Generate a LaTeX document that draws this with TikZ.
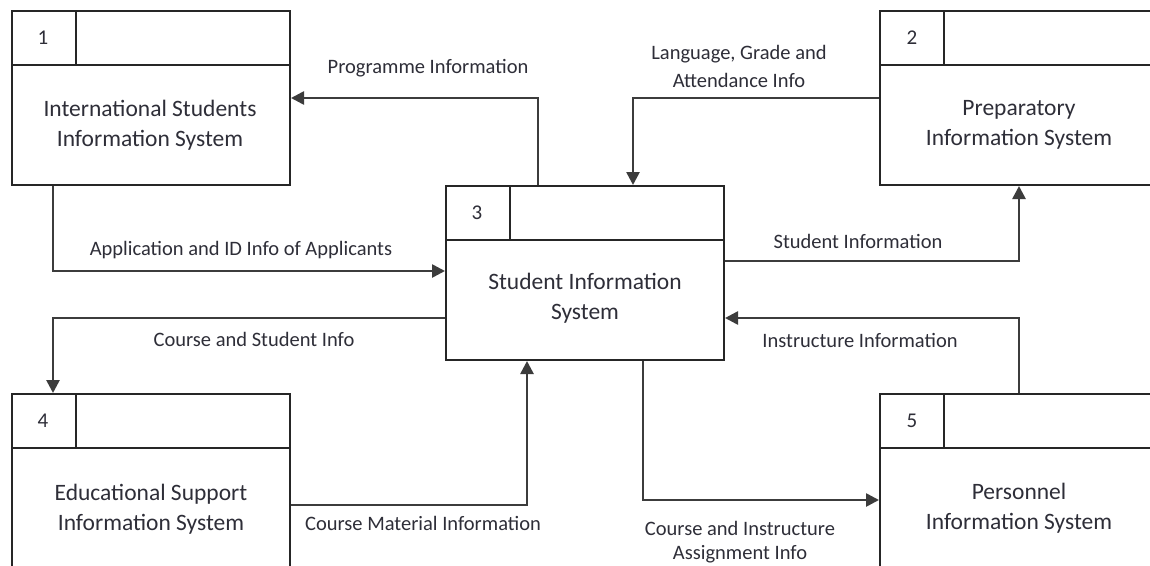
\documentclass[tikz,border=0pt]{standalone}
\usepackage{fontspec}
\setmainfont{Carlito}
\usetikzlibrary{arrows.meta}
\definecolor{ink}{HTML}{262626}
\definecolor{wire}{HTML}{3C3C3C}
\definecolor{txt}{HTML}{2E2E38}
\tikzset{
  sysbox/.style={draw=ink, line width=2pt, minimum width=278pt, minimum height=174pt,
    inner sep=0pt, anchor=north west},
  rule/.style={draw=ink, line width=2pt},
  flow/.style={draw=wire, line width=2.6pt, line join=miter,
    -{Triangle[length=13pt,width=13pt]}},
  numtxt/.style={text=txt, font=\fontsize{21}{24}\selectfont},
  systxt/.style={text=txt, align=center, font=\fontsize{23.5}{30}\selectfont},
  flowtxt/.style={text=txt, align=center, font=\fontsize{20.5}{28}\selectfont}
}
\newcommand{\headerrule}[1]{%
  \draw[rule] ([yshift=-55pt]#1.north west) -- ([yshift=-55pt]#1.north east);
  \draw[rule] ([xshift=65pt]#1.north west) -- ([xshift=65pt,yshift=-55pt]#1.north west);}
\begin{document}
\begin{tikzpicture}[x=1pt,y=-1pt]
  \useasboundingbox (0,0) rectangle (1150,565);
  \clip (0,0) rectangle (1150,565);
  \fill[white] (0,0) rectangle (1150,565);

  % systems
  \node[sysbox] (b1) at (11,10) {};
  \node[sysbox] (b2) at (879,10) {};
  \node[sysbox] (b3) at (445,185) {};
  \node[sysbox] (b4) at (11,393) {};
  \node[sysbox] (b5) at (879,393) {};
  \headerrule{b1}
  \headerrule{b2}
  \headerrule{b3}
  \headerrule{b4}
  \headerrule{b5}

  \node[numtxt] (n1) at (43,38) {1};
  \node[numtxt] (n2) at (912,38) {2};
  \node[numtxt] (n3) at (477,213) {3};
  \node[numtxt] (n4) at (43,421) {4};
  \node[numtxt] (n5) at (912,421) {5};

  \node[systxt] (t1) at (150,125) {International Students\\Information System};
  \node[systxt] (t2) at (1019,125) {Preparatory\\Information System};
  \node[systxt] (t3) at (585,298) {Student Information\\System};
  \node[systxt] (t4) at (151,509) {Educational Support\\Information System};
  \node[systxt] (t5) at (1019,508) {Personnel\\Information System};

  % data flows
  \draw[flow] ([xshift=93pt]b3.north west) |- ([yshift=-88pt]b1.north east);
  \draw[flow] ([yshift=-88pt]b2.north west) -| ([xshift=188pt]b3.north west);
  \draw[flow] ([xshift=42pt]b1.south west) |- ([yshift=-86pt]b3.north west);
  \draw[flow] ([yshift=-76pt]b3.north east) -| ([xshift=140pt]b2.south west);
  \draw[flow] ([yshift=-133pt]b3.north west) -| ([xshift=42pt]b4.north west);
  \draw[flow] ([yshift=-112pt]b4.north east) -| ([xshift=82pt]b3.south west);
  \draw[flow] ([xshift=140pt]b5.north west) |- ([yshift=-133pt]b3.north east);
  \draw[flow] ([xshift=198pt]b3.south west) |- ([yshift=-107pt]b5.north west);

  % flow labels
  \node[flowtxt] (l1) at (428,68) {Programme Information};
  \node[flowtxt] (l2) at (739,66) {Language, Grade and\\Attendance Info};
  \node[flowtxt] (l3) at (241,250) {Application and ID Info of Applicants};
  \node[flowtxt] (l4) at (858,241) {Student Information};
  \node[flowtxt] (l5) at (254,339) {Course and Student Info};
  \node[flowtxt] (l6) at (423,523) {Course Material Information};
  \node[flowtxt] (l7) at (860,340) {Instructure Information};
  \node[flowtxt, font=\fontsize{20.5}{24}\selectfont] (l8) at (740,542) {Course and Instructure\\Assignment Info};
\end{tikzpicture}
\end{document}
